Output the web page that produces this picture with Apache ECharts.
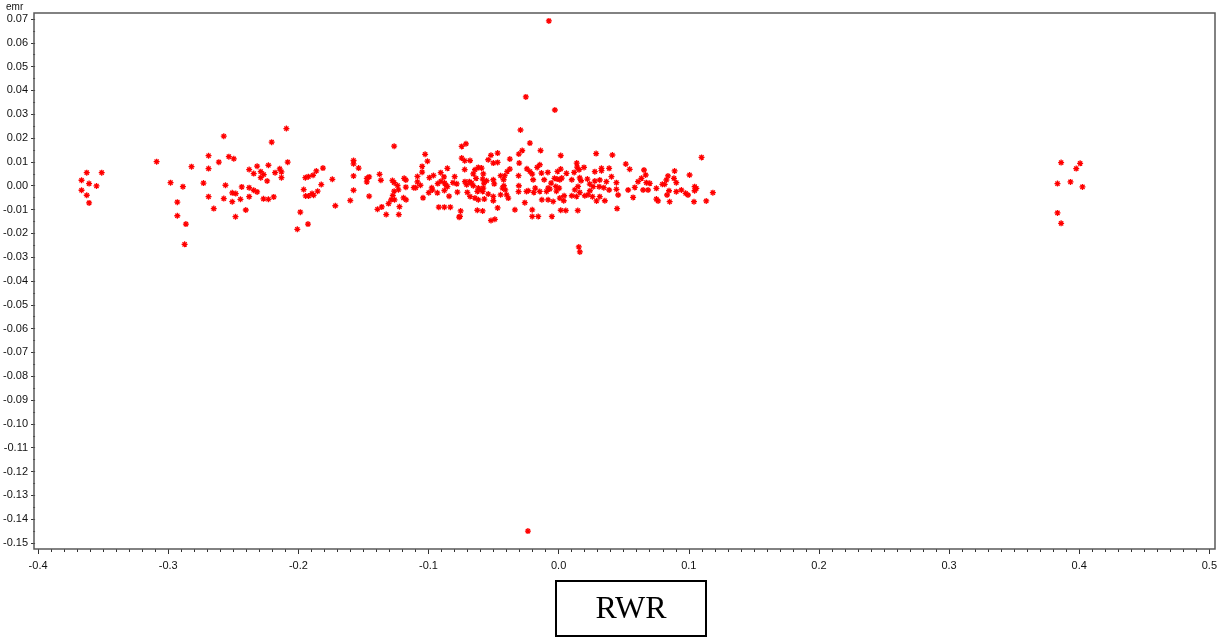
<!DOCTYPE html>
<html>
<head>
<meta charset="utf-8">
<title>emr vs RWR</title>
<script src="https://cdn.jsdelivr.net/npm/echarts@6/dist/echarts.min.js"></script>
<style>
  html, body { margin: 0; padding: 0; background: #fff; }
  #chart1 { width: 1220px; height: 639px; }
</style>
</head>
<body>
<div id="chart1"></div>
<script>
// axis ranges
var xMin = -0.4, xMax = 0.5, xStep = 0.1;
var yMin = -0.15, yMax = 0.07, yStep = 0.01;
var xTitle = "RWR";
var yTitle = "emr";

// [RWR, emr] pairs, grouped by region
var farLeft = [
  [-0.3626, 0.0055], [-0.3511, 0.0055], [-0.3666, 0.0023], [-0.3608, 0.0009],
  [-0.3551, -0.0001], [-0.3666, -0.0019], [-0.3626, -0.0040], [-0.3608, -0.0072]
];

var left = [
  [-0.3089, 0.0101], [-0.2821, 0.0080], [-0.2690, 0.0126], [-0.2690, 0.0072],
  [-0.2982, 0.0013], [-0.2887, -0.0004], [-0.2729, 0.0011], [-0.2690, -0.0046],
  [-0.2930, -0.0069], [-0.2930, -0.0126], [-0.2864, -0.0161], [-0.2874, -0.0246],
  [-0.2092, 0.0240], [-0.2573, 0.0208], [-0.2205, 0.0183], [-0.2534, 0.0122],
  [-0.2496, 0.0113], [-0.2611, 0.0099], [-0.2317, 0.0082], [-0.2230, 0.0086],
  [-0.2082, 0.0099], [-0.2378, 0.0068], [-0.2143, 0.0071], [-0.2343, 0.0051],
  [-0.2289, 0.0059], [-0.2266, 0.0047], [-0.2179, 0.0055], [-0.2130, 0.0058],
  [-0.2289, 0.0034], [-0.2130, 0.0034], [-0.2240, 0.0020], [-0.2560, 0.0002],
  [-0.2435, -0.0005], [-0.2378, -0.0008], [-0.2343, -0.0019], [-0.2317, -0.0026],
  [-0.2508, -0.0030], [-0.2481, -0.0033], [-0.2573, -0.0054], [-0.2445, -0.0057],
  [-0.2378, -0.0046], [-0.2268, -0.0055], [-0.2230, -0.0057], [-0.2189, -0.0047],
  [-0.2508, -0.0067], [-0.2650, -0.0096], [-0.2404, -0.0102], [-0.2483, -0.0130],
  [-0.1811, 0.0074], [-0.1862, 0.0062], [-0.1887, 0.0044], [-0.1923, 0.0038],
  [-0.1946, 0.0034], [-0.1739, 0.0027], [-0.1824, 0.0005], [-0.1959, -0.0016],
  [-0.1852, -0.0023], [-0.1895, -0.0033], [-0.1883, -0.0040], [-0.1944, -0.0043],
  [-0.1921, -0.0043], [-0.1716, -0.0084], [-0.1985, -0.0111], [-0.1926, -0.0161],
  [-0.2008, -0.0183]
];

var midLeft = [
  [-0.1264, 0.0166], [-0.1576, 0.0106], [-0.1576, 0.0092], [-0.1537, 0.0074],
  [-0.1576, 0.0041], [-0.1576, -0.0019], [-0.1601, -0.0062], [-0.1474, 0.0031],
  [-0.1456, 0.0037], [-0.1474, 0.0016], [-0.1456, -0.0044], [-0.1376, 0.0048],
  [-0.1366, 0.0023], [-0.1277, 0.0022], [-0.1264, 0.0013], [-0.1238, 0.0001],
  [-0.1264, -0.0023], [-0.1231, -0.0017], [-0.1274, -0.0041], [-0.1287, -0.0059],
  [-0.1261, -0.0059], [-0.1307, -0.0075], [-0.1223, -0.0088], [-0.1359, -0.0089],
  [-0.1392, -0.0099], [-0.1325, -0.0121], [-0.1228, -0.0121], [-0.1187, 0.0031],
  [-0.1174, 0.0024], [-0.1174, -0.0006], [-0.1192, -0.0051], [-0.1172, -0.0059],
  [-0.1113, -0.0008], [-0.1098, -0.0008], [-0.1085, 0.0039], [-0.1085, 0.0016],
  [-0.1062, 0.0002], [-0.1049, 0.0081], [-0.1049, 0.0057], [-0.1026, 0.0132],
  [-0.1008, 0.0103], [-0.1042, -0.0051], [-0.0993, 0.0034], [-0.0962, 0.0043],
  [-0.0998, -0.0029], [-0.0975, -0.0009], [-0.0970, -0.0018], [-0.0929, 0.0009],
  [-0.0932, -0.0030], [-0.0906, 0.0055], [-0.0904, 0.0019], [-0.0881, 0.0037],
  [-0.0876, 0.0011], [-0.0855, 0.0073], [-0.0865, 0.0002], [-0.0855, -0.0004],
  [-0.0878, -0.0020], [-0.0842, -0.0044], [-0.0921, -0.0090], [-0.0878, -0.0090],
  [-0.0832, -0.0090], [-0.0765, -0.0132], [-0.0799, 0.0038], [-0.0812, 0.0013],
  [-0.0783, 0.0008], [-0.0778, -0.0027]
];

var center = [
  [-0.0293, 0.0234], [-0.0712, 0.0176], [-0.0745, 0.0165], [-0.0221, 0.0179],
  [-0.0139, 0.0148], [-0.0280, 0.0148], [-0.0306, 0.0133], [-0.0469, 0.0137],
  [-0.0520, 0.0128], [0.0016, 0.0127], [-0.0745, 0.0116], [-0.0722, 0.0105],
  [-0.0681, 0.0106], [-0.0541, 0.0109], [-0.0375, 0.0112], [-0.0469, 0.0098],
  [-0.0502, 0.0095], [-0.0303, 0.0095], [0.0139, 0.0095], [0.0142, 0.0078],
  [0.0195, 0.0077], [-0.0617, 0.0077], [-0.0592, 0.0074], [-0.0722, 0.0068],
  [-0.0643, 0.0067], [-0.0579, 0.0050], [-0.0656, 0.0050], [-0.0375, 0.0070],
  [-0.0395, 0.0060], [-0.0244, 0.0071], [-0.0221, 0.0060], [-0.0203, 0.0049],
  [-0.0145, 0.0088], [-0.0165, 0.0077], [-0.0132, 0.0053], [-0.0083, 0.0056],
  [0.0016, 0.0070], [-0.0009, 0.0060], [0.0060, 0.0052], [0.0119, 0.0056],
  [0.0157, 0.0067], [-0.0720, 0.0017], [-0.0686, 0.0017], [-0.0669, 0.0011],
  [-0.0635, 0.0031], [-0.0584, 0.0028], [-0.0554, 0.0021], [-0.0574, 0.0011],
  [-0.0502, 0.0025], [-0.0495, 0.0008], [-0.0446, 0.0042], [-0.0415, 0.0042],
  [-0.0423, 0.0025], [-0.0308, 0.0042], [-0.0306, 0.0000], [-0.0196, 0.0025],
  [-0.0111, 0.0025], [-0.0058, 0.0011], [-0.0032, 0.0031], [-0.0012, 0.0028],
  [0.0009, 0.0025], [-0.0068, -0.0014], [-0.0022, -0.0003], [0.0004, -0.0010],
  [0.0024, 0.0032], [0.0101, 0.0025], [0.0162, 0.0033], [0.0172, 0.0021],
  [0.0221, 0.0028], [0.0239, 0.0007], [-0.0707, 0.0004], [-0.0656, 0.0000],
  [-0.0617, -0.0010], [-0.0605, -0.0017], [-0.0579, -0.0010], [-0.0584, -0.0024],
  [-0.0625, -0.0024], [-0.0681, -0.0045], [-0.0702, -0.0028], [-0.0643, -0.0052],
  [-0.0617, -0.0059], [-0.0571, -0.0056], [-0.0541, -0.0035], [-0.0502, -0.0045],
  [-0.0502, -0.0063], [-0.0446, -0.0038], [-0.0431, -0.0010], [-0.0421, 0.0000],
  [-0.0400, -0.0038], [-0.0410, -0.0017], [-0.0387, -0.0052], [-0.0308, -0.0025],
  [-0.0247, -0.0024], [-0.0234, -0.0021], [-0.0191, -0.0028], [-0.0180, -0.0010],
  [-0.0145, -0.0024], [-0.0129, -0.0059], [-0.0093, -0.0024], [-0.0081, -0.0010],
  [-0.0017, -0.0023], [0.0009, -0.0052], [0.0042, -0.0042], [-0.0042, -0.0066],
  [-0.0081, -0.0059], [0.0039, -0.0063], [0.0101, -0.0042], [0.0124, -0.0017],
  [0.0149, -0.0003], [0.0162, -0.0028], [0.0201, -0.0042], [0.0226, -0.0038],
  [0.0137, -0.0045], [-0.0753, -0.0106], [-0.0625, -0.0103], [-0.0584, -0.0106],
  [-0.0469, -0.0093], [-0.0336, -0.0101], [-0.0260, -0.0071], [-0.0203, -0.0101],
  [-0.0203, -0.0129], [-0.0157, -0.0129], [-0.0052, -0.0129], [0.0016, -0.0103],
  [0.0055, -0.0104], [0.0147, -0.0104], [-0.0520, -0.0146], [-0.0490, -0.0141],
  [-0.0758, -0.0129]
];

var midRight = [
  [0.0288, 0.0135], [0.0413, 0.0129], [0.1098, 0.0119], [0.0278, 0.0059],
  [0.0329, 0.0073], [0.0329, 0.0063], [0.0388, 0.0073], [0.0516, 0.0091],
  [0.0546, 0.0069], [0.0278, 0.0020], [0.0316, 0.0024], [0.0367, 0.0017],
  [0.0406, 0.0038], [0.0444, 0.0013], [0.0265, -0.0004], [0.0311, -0.0004],
  [0.0347, -0.0008], [0.0388, -0.0018], [0.0240, -0.0021], [0.0444, -0.0015],
  [0.0457, -0.0039], [0.0656, 0.0066], [0.0669, 0.0045], [0.0636, 0.0031],
  [0.0610, 0.0017], [0.0674, 0.0013], [0.0700, 0.0010], [0.0649, -0.0018],
  [0.0687, -0.0018], [0.0585, -0.0007], [0.0534, -0.0018], [0.0572, -0.0049],
  [0.0751, -0.0011], [0.0797, 0.0006], [0.0815, 0.0006], [0.0840, 0.0041],
  [0.0828, 0.0024], [0.0891, 0.0062], [0.0886, 0.0031], [0.0904, 0.0013],
  [0.0848, -0.0021], [0.0833, -0.0039], [0.0904, -0.0025], [0.0943, -0.0018],
  [0.0976, -0.0032], [0.0994, -0.0039], [0.1006, 0.0045], [0.1045, -0.0004],
  [0.1058, -0.0011], [0.1045, -0.0021], [0.1185, -0.0029], [0.0751, -0.0056],
  [0.0764, -0.0064], [0.0853, -0.0067], [0.1040, -0.0067], [0.1134, -0.0064],
  [0.0260, -0.0046], [0.0291, -0.0064], [0.0355, -0.0063], [0.0316, -0.0046],
  [0.0449, -0.0096]
];

var farRight = [
  [0.3861, 0.0097], [0.4007, 0.0094], [0.3977, 0.0072], [0.3833, 0.0009],
  [0.3933, 0.0016], [0.4025, -0.0005], [0.3833, -0.0114], [0.3861, -0.0158]
];

var outliers = [
  [-0.0075, 0.0692], [-0.0252, 0.0373], [-0.0029, 0.0318],
  [-0.0236, -0.1450], [0.0155, -0.0257], [0.0163, -0.0278]
];

var allPoints = [].concat(farLeft, left, midLeft, center, midRight, farRight, outliers);

// asterisk marker, stroked only
var asterisk = "path://M5,0L5,10M0,5L10,5M1.5,1.5L8.5,8.5M1.5,8.5L8.5,1.5";

function fmt(d) {
  return function (v) {
    if (Math.abs(v) < 1e-9) v = 0;
    return v.toFixed(d);
  };
}

var chart1 = echarts.init(document.getElementById("chart1"));
var option = {
  animation: false,
  grid: {
    left: 37,
    right: 9,
    top: 19,
    bottom: 96,
  },
  xAxis: {
    type: "value",
    min: xMin,
    max: xMax,
    interval: xStep,
    offset: 6,
    splitLine: { show: false },
    axisLine: { show: false, onZero: false },
    axisTick: {
      show: true,
      length: 5,
      lineStyle: { color: "#333", width: 1 },
    },
    minorTick: {
      show: true,
      splitNumber: 10,
      length: 3,
      lineStyle: { color: "#333", width: 1 },
    },
    axisLabel: {
      margin: 11,
      color: "#111",
      fontSize: 11,
      fontFamily: "Liberation Sans",
      formatter: fmt(1),
    },
  },
  yAxis: {
    type: "value",
    min: yMin,
    max: yMax,
    interval: yStep,
    offset: 3,
    splitLine: { show: false },
    axisLine: { show: false, onZero: false },
    axisTick: {
      show: true,
      length: 4,
      lineStyle: { color: "#333", width: 1 },
    },
    minorTick: {
      show: true,
      splitNumber: 2,
      length: 2,
      lineStyle: { color: "#333", width: 1 },
    },
    axisLabel: {
      margin: 7,
      color: "#111",
      fontSize: 11,
      fontFamily: "Liberation Sans",
      formatter: fmt(2),
    },
  },
  graphic: [
    {
      type: "rect",
      silent: true,
      z: 1,
      shape: { x: 34, y: 13, width: 1181, height: 536 },
      style: { fill: "none", stroke: "#5a5a5a", lineWidth: 1.5 },
    },
    {
      type: "text",
      left: 6,
      top: 2,
      style: {
        text: yTitle,
        fill: "#111",
        fontSize: 10,
        fontFamily: "Liberation Sans",
      },
    },
    {
      type: "rect",
      shape: { x: 556, y: 581, width: 150, height: 55 },
      style: { fill: "#fff", stroke: "#000", lineWidth: 2 },
    },
    {
      type: "text",
      x: 631,
      y: 610,
      style: {
        text: xTitle,
        fill: "#000",
        fontSize: 32,
        fontFamily: "Liberation Serif",
        textAlign: "center",
        textVerticalAlign: "middle",
      },
    },
  ],
  series: [
    {
      type: "scatter",
      data: allPoints,
      symbol: asterisk,
      symbolSize: 6,
      itemStyle: {
        color: "none",
        borderColor: "#ff0000",
        borderWidth: 1.3,
        opacity: 1,
      },
    },
  ],
};
chart1.setOption(option);
window.addEventListener("resize", function () {
  chart1.resize();
});
</script>
</body>
</html>
